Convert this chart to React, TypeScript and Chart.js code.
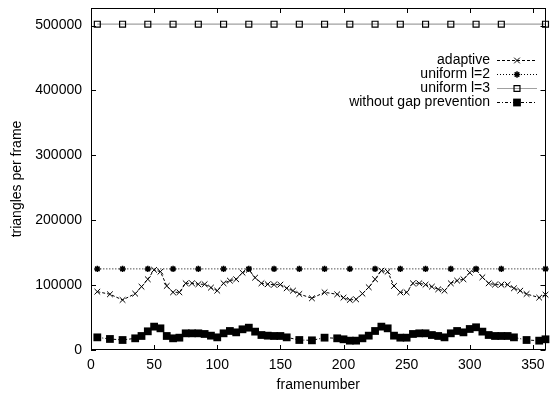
import React, { useEffect, useRef } from "react";
import { Chart, registerables } from "chart.js";
import { drawPoint } from "chart.js/helpers";

Chart.register(...registerables);

const adaptiveFrames = [5, 15, 25, 35, 40, 45, 50, 55, 60, 65, 70, 75, 80, 85, 90, 95, 100, 105, 110, 115, 120, 125, 130, 135, 140, 145, 150, 155, 160, 165, 175, 185, 195, 200, 205, 210, 215, 220, 225, 230, 235, 240, 245, 250, 255, 260, 265, 270, 275, 280, 285, 290, 295, 300, 305, 310, 315, 320, 325, 330, 335, 340, 345, 355, 360];
const adaptiveValues = [89900, 85900, 77100, 86800, 97600, 109000, 123500, 120700, 98700, 88900, 88900, 102800, 102800, 101300, 101300, 96100, 91400, 102800, 106900, 109000, 119200, 123500, 111500, 102800, 101300, 100700, 100700, 95100, 91400, 86300, 79700, 88900, 85800, 80700, 77100, 78100, 86800, 96700, 109000, 122300, 120700, 98700, 88900, 88900, 102800, 102800, 100700, 97600, 93500, 91400, 102800, 106900, 109000, 119200, 123500, 112000, 102800, 100700, 100700, 100700, 95100, 91400, 86300, 80700, 85300];

const noGapFrames = [5, 15, 25, 35, 40, 45, 50, 55, 60, 65, 70, 75, 80, 85, 90, 95, 100, 105, 110, 115, 120, 125, 130, 135, 140, 145, 150, 155, 165, 175, 185, 195, 200, 205, 210, 215, 220, 225, 230, 235, 240, 245, 250, 255, 260, 265, 270, 275, 280, 285, 290, 295, 300, 305, 310, 315, 320, 325, 330, 335, 345, 355, 360];
const noGapValues = [19500, 17000, 15400, 18000, 21600, 28800, 36000, 33400, 21600, 18000, 19000, 25700, 25700, 25700, 24700, 22100, 19500, 25700, 29300, 27200, 31900, 34400, 28300, 23100, 22100, 21600, 21600, 19500, 15400, 14900, 19000, 18000, 16500, 14400, 14400, 18000, 22100, 29300, 36000, 33400, 22100, 19000, 19000, 24700, 25700, 25700, 23100, 21600, 19500, 25700, 29300, 27200, 32400, 35000, 28300, 23100, 21600, 21600, 21600, 19500, 15400, 14400, 16500];

const uniformFrames = [5, 25, 45, 65, 85, 105, 125, 145, 165, 185, 205, 225, 245, 265, 285, 305, 325, 360];
const uniformL2Values = [125000, 125000, 125000, 125000, 125000, 125000, 125000, 125000, 125000, 125000, 125000, 125000, 125000, 125000, 125000, 125000, 125000, 125000];
const uniformL3Values = [502000, 502000, 502000, 502000, 502000, 502000, 502000, 502000, 502000, 502000, 502000, 502000, 502000, 502000, 502000, 502000, 502000, 502000];

const seriesLabels = ["adaptive", "uniform l=2", "uniform l=3", "without gap prevention"];
const xTicks = [0, 50, 100, 150, 200, 250, 300, 350];
const yTicks = [0, 100000, 200000, 300000, 400000, 500000];
const xMax = 360;
const yMax = 527000;
const xTitle = "framenumber";
const yTitle = "triangles per frame";

const FONT = "'Liberation Sans', Arial, Helvetica, sans-serif";

const pts = (xs: number[], ys: number[]) => xs.map((x, i) => ({ x, y: ys[i] }));

const framePlugin = {
  id: "gnuplotFrame",
  afterDatasetsDraw(chart: any) {
    const { ctx, chartArea: a, scales } = chart;
    const xs = scales.x;
    const ys = scales.y;
    ctx.save();
    ctx.strokeStyle = "#000";
    ctx.lineWidth = 1;
    ctx.setLineDash([]);
    ctx.strokeRect(Math.round(a.left) + 0.5, Math.round(a.top) + 0.5, Math.round(a.right - a.left) - 1, Math.round(a.bottom - a.top) - 1);
    const tl = 5;
    ctx.beginPath();
    for (const v of xTicks) {
      const px = Math.round(xs.getPixelForValue(v)) + 0.5;
      ctx.moveTo(px, a.bottom);
      ctx.lineTo(px, a.bottom - tl);
      ctx.moveTo(px, a.top);
      ctx.lineTo(px, a.top + tl);
    }
    for (const v of yTicks) {
      const py = Math.round(ys.getPixelForValue(v)) + 0.5;
      ctx.moveTo(a.left, py);
      ctx.lineTo(a.left + tl, py);
      ctx.moveTo(a.right, py);
      ctx.lineTo(a.right - tl, py);
    }
    ctx.stroke();

    // legend (gnuplot style: text right-aligned, sample to the right)
    const textRight = 490;
    const lineL = 497;
    const lineR = 537;
    const top = 60;
    const step = 14;
    ctx.font = `14px ${FONT}`;
    ctx.textAlign = "right";
    ctx.textBaseline = "middle";
    chart.data.datasets.forEach((ds: any, i: number) => {
      const y = Math.round(top + i * step) + 0.5;
      ctx.fillStyle = "#000";
      ctx.fillText(ds.label, textRight, y);
      ctx.strokeStyle = ds.borderColor;
      ctx.lineWidth = ds.borderWidth;
      ctx.setLineDash(ds.borderDash || []);
      ctx.beginPath();
      ctx.moveTo(lineL, y);
      ctx.lineTo(lineR, y);
      ctx.stroke();
      ctx.setLineDash([]);
      ctx.strokeStyle = ds.pointBorderColor;
      ctx.fillStyle = ds.pointBackgroundColor;
      ctx.lineWidth = ds.pointBorderWidth;
      drawPoint(ctx, { pointStyle: ds.pointStyle, radius: ds.pointRadius, borderWidth: ds.pointBorderWidth, rotation: 0 }, (lineL + lineR) / 2, y);
    });
    ctx.restore();
  },
};

export default function App() {
  const ref = useRef<HTMLCanvasElement | null>(null);
  useEffect(() => {
    document.body.style.margin = "0";
    const canvas = ref.current;
    if (!canvas) return;
    const chart = new Chart(canvas, {
      type: "line",
      data: {
        datasets: [
          {
            label: seriesLabels[0],
            data: pts(adaptiveFrames, adaptiveValues),
            borderColor: "#000",
            borderWidth: 1,
            borderDash: [3, 2],
            pointStyle: "crossRot",
            pointRadius: 4,
            pointBorderWidth: 1,
            pointBorderColor: "#000",
            pointBackgroundColor: "#000",
            clip: false,
          },
          {
            label: seriesLabels[1],
            data: pts(uniformFrames, uniformL2Values),
            borderColor: "#000",
            borderWidth: 1,
            borderDash: [1, 2],
            pointStyle: "star",
            pointRadius: 3.2,
            pointBorderWidth: 1.5,
            pointBorderColor: "#000",
            pointBackgroundColor: "#000",
            clip: false,
          },
          {
            label: seriesLabels[2],
            data: pts(uniformFrames, uniformL3Values),
            borderColor: "#a0a0a0",
            borderWidth: 1.2,
            borderDash: [],
            pointStyle: "rect",
            pointRadius: 4.2,
            pointBorderWidth: 1.2,
            pointBorderColor: "#000",
            pointBackgroundColor: "rgba(0,0,0,0)",
            clip: false,
          },
          {
            label: seriesLabels[3],
            data: pts(noGapFrames, noGapValues),
            borderColor: "#000",
            borderWidth: 1,
            borderDash: [3, 2, 1, 2],
            pointStyle: "rect",
            pointRadius: 5.5,
            pointBorderWidth: 0,
            pointBorderColor: "#000",
            pointBackgroundColor: "#000",
            clip: false,
          },
        ],
      },
      options: {
        responsive: false,
        animation: false,
        events: [],
        layout: { padding: { top: 8, right: 2, left: 0, bottom: 0 } },
        plugins: { legend: { display: false }, tooltip: { enabled: false } },
        elements: { line: { tension: 0 } },
        scales: {
          x: {
            type: "linear",
            min: 0,
            max: xMax,
            grid: { display: false, drawTicks: false },
            border: { display: false },
            afterFit: (s: any) => {
              s.height = 47;
              s.paddingLeft = 0;
              s.paddingRight = 0;
            },
            afterBuildTicks: (s: any) => {
              s.ticks = xTicks.map((v) => ({ value: v }));
            },
            ticks: {
              padding: 7,
              maxRotation: 0,
              autoSkip: false,
              color: "#000",
              font: { family: FONT, size: 14 },
              callback: (v: any) => String(v),
            },
            title: {
              display: true,
              text: xTitle,
              color: "#000",
              font: { family: FONT, size: 14 },
              padding: { top: 0, bottom: 3 },
            },
          },
          y: {
            type: "linear",
            min: 0,
            max: yMax,
            grid: { display: false, drawTicks: false },
            border: { display: false },
            afterFit: (s: any) => {
              s.width = 91;
              s.paddingTop = 0;
              s.paddingBottom = 0;
            },
            afterBuildTicks: (s: any) => {
              s.ticks = yTicks.map((v) => ({ value: v }));
            },
            ticks: {
              padding: 9,
              autoSkip: false,
              color: "#000",
              font: { family: FONT, size: 14 },
              callback: (v: any) => String(v),
            },
            title: {
              display: true,
              text: yTitle,
              color: "#000",
              font: { family: FONT, size: 14 },
              padding: { top: 9, bottom: 0 },
            },
          },
        },
      },
      plugins: [framePlugin],
    });
    return () => chart.destroy();
  }, []);
  return (
    <div style={{ width: 551, height: 397 }}>
      <canvas ref={ref} width={551} height={397} style={{ display: "block", width: 551, height: 397 }} />
    </div>
  );
}
